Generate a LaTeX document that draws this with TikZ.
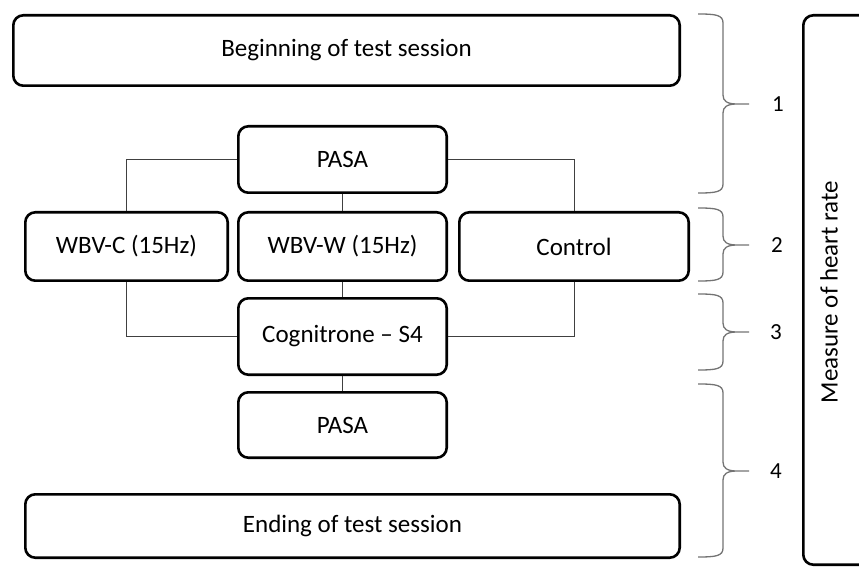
\documentclass[tikz,border=0pt]{standalone}
\usepackage{fontspec}
\setmainfont{Carlito}
\newcommand\wbrace[3]{%
  \draw[brc] (698,#1) .. controls (716,#1) and (723,#1+1) .. (723,#1+9) -- (723,#3-9)
    .. controls (723,#3-3) and (727,#3) .. (737,#3) -- (749,#3)
    (737,#3) .. controls (727,#3) and (723,#3+3) .. (723,#3+9) -- (723,#2-9)
    .. controls (723,#2-1) and (716,#2) .. (698,#2);}
\begin{document}
\begin{tikzpicture}[x=1pt,y=-1pt,
  box/.style={draw, line width=2.6pt, rounded corners=10pt, inner sep=0pt,
    font=\fontsize{25}{30}\selectfont},
  link/.style={draw=black!75, line width=0.9pt},
  brc/.style={draw=black!55, line width=1.3pt},
  num/.style={font=\fontsize{23}{28}\selectfont, inner sep=0pt}]
\useasboundingbox (0,0) rectangle (859,569);
\clip (0,0) rectangle (859,569);
\node[box, minimum width=666.4pt, minimum height=70.4pt] (begin) at (346.5,50.5) {Beginning of test session};
\node[box, minimum width=208.4pt, minimum height=66.4pt] (pasa1) at (342.5,159.5) {PASA};
\node[box, minimum width=202.4pt, minimum height=68.4pt] (wbvc) at (126.5,246.5) {WBV-C (15Hz)};
\node[box, minimum width=208.4pt, minimum height=68.4pt] (wbvw) at (342.5,246.5) {WBV-W (15Hz)};
\node[box, minimum width=229.4pt, minimum height=68.4pt] (ctrl) at (574,246.5) {Control};
\node[box, minimum width=208.4pt, minimum height=76.4pt] (cog) at (342.5,336.5) {Cognitrone – S4};
\node[box, minimum width=208.4pt, minimum height=65.4pt] (pasa2) at (342.5,425) {PASA};
\node[box, minimum width=654.4pt, minimum height=63.4pt] (end) at (352.5,526) {Ending of test session};
\node[box, minimum width=76.7pt, minimum height=549.4pt] (hrbox) at (841.65,290) {};
\node[font=\fontsize{25}{30}\selectfont, rotate=90] (hrlabel) at (829,292) {Measure of heart rate};
\draw[link] (pasa1.west) -| (wbvc.north);
\draw[link] (pasa1.east) -| (ctrl.north);
\draw[link] (wbvc.south) |- (cog.west);
\draw[link] (ctrl.south) |- (cog.east);
\draw[link] (pasa1.south) -- (wbvw.north);
\draw[link] (wbvw.south) -- (cog.north);
\draw[link] (cog.south) -- (pasa2.north);
\wbrace{14}{193}{104}
\wbrace{208}{281}{245}
\wbrace{294}{370}{332}
\wbrace{384}{557}{471}
\node[num] (n1) at (778,104) {1};
\node[num] (n2) at (777,245) {2};
\node[num] (n3) at (776,332) {3};
\node[num] (n4) at (776,471) {4};
\end{tikzpicture}
\end{document}
